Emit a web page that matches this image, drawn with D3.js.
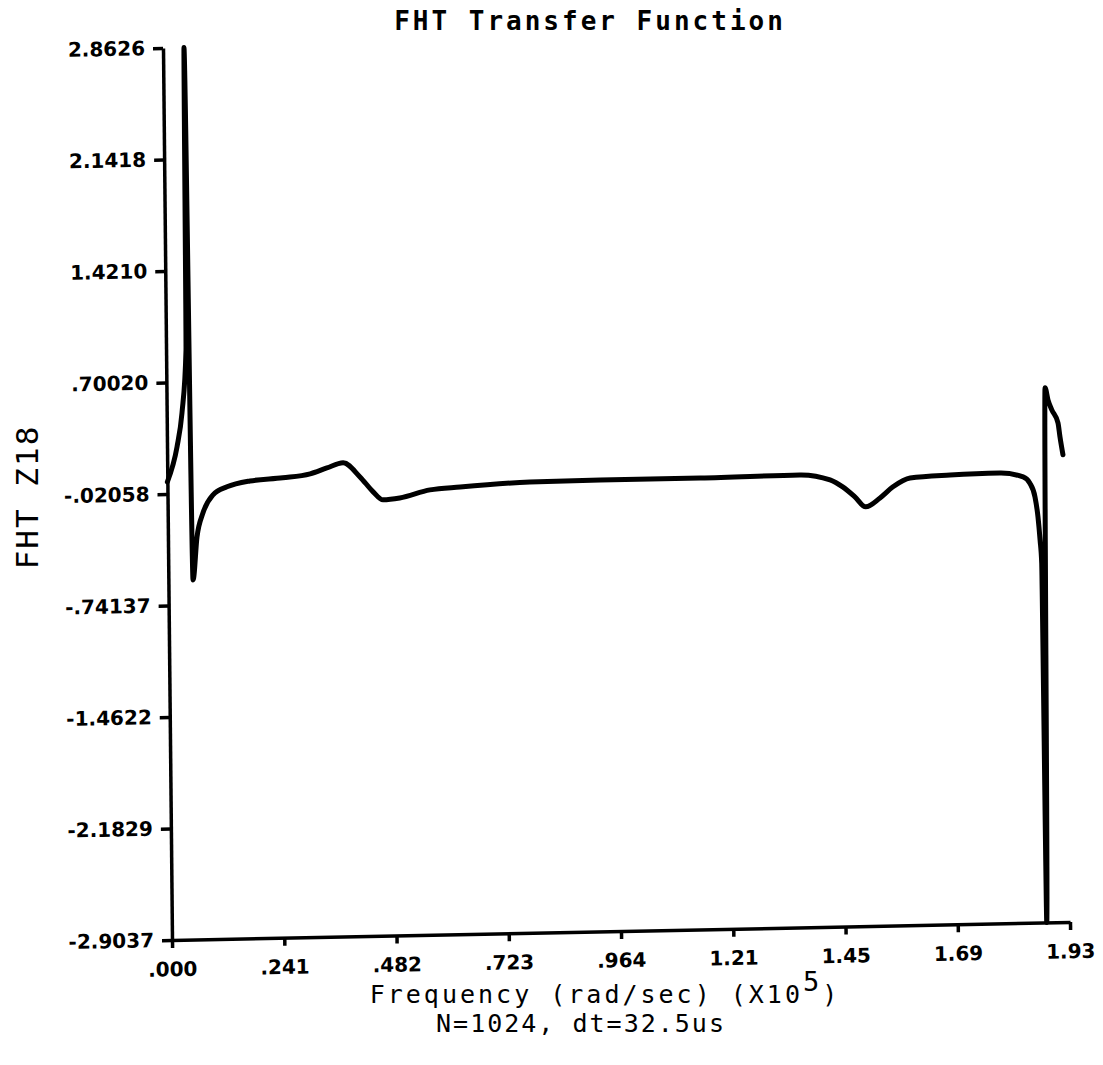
<!DOCTYPE html>
<html>
<head>
<meta charset="utf-8">
<script src="https://cdn.jsdelivr.net/npm/d3@7"></script>
<style>
  body { margin: 0; background: #fff; }
  .axis path, .axis line { stroke: #000; stroke-width: 3.5; }
  .axis text { font-family: "DejaVu Sans"; font-weight: bold; font-size: 20px; fill: #000; }
  .plotter { font-family: "DejaVu Sans Mono"; fill: #000; }
</style>
</head>
<body>
<div id="chart"></div>
<script>
// frequency (x10^5 rad/sec) and FHT Z18 response
const freq = [0, 0.0215, 0.0329, 0.0429, 0.0451, 0.0530, 0.0625, 0.0759, 0.0978, 0.128,
  0.1775, 0.248, 0.307, 0.343, 0.378, 0.414, 0.442, 0.463, 0.499, 0.564,
  0.629, 0.779, 0.930, 1.145, 1.359, 1.424, 1.451, 1.477, 1.500, 1.531,
  1.559, 1.596, 1.682, 1.789, 1.839, 1.853, 1.864, 1.870, 1.874, 1.877,
  1.880, 1.888, 1.894, 1.902, 1.915, 1.919, 1.925];
const fht = [0.058, 0.283, 0.502, 0.908, 2.8626, -0.579, -0.302, -0.147, -0.032, 0.018,
  0.053, 0.069, 0.091, 0.127, 0.158, 0.065, -0.033, -0.086, -0.076, -0.028,
  -0.013, 0.010, 0.014, 0.014, 0.021, -0.015, -0.062, -0.128, -0.194, -0.138,
  -0.068, -0.013, 0.001, 0.008, -0.021, -0.061, -0.152, -0.281, -0.431, -0.579,
  -2.9037, 0.552, 0.474, 0.409, 0.324, 0.233, 0.117];

const xTicks = [0, 0.24125, 0.4825, 0.72375, 0.965, 1.20625, 1.4475, 1.68875, 1.93];
const xTickLabels = [".000", ".241", ".482", ".723", ".964", "1.21", "1.45", "1.69", "1.93"];
const yTicks = [2.8626, 2.1418, 1.4210, 0.70020, -0.02058, -0.74137, -1.4622, -2.1829, -2.9037];
const yTickLabels = ["2.8626", "2.1418", "1.4210", ".70020", "-.02058", "-.74137", "-1.4622", "-2.1829", "-2.9037"];

const width = 1103, height = 1065;
const x0 = 172, x1 = 1070, yBottom = 940, yTop = 48;

const svg = d3.select("#chart").append("svg")
  .attr("width", width)
  .attr("height", height);

const x = d3.scaleLinear().domain([0, 1.93]).range([x0, x1]);
const y = d3.scaleLinear().domain([-2.9037, 2.8626]).range([yBottom, yTop]);

// the plotted frame sits a little askew on the sheet
const plot = svg.append("g")
  .attr("transform", `translate(${x0},${yBottom}) matrix(1,-0.02,0.0101,1,0,0) translate(${-x0},${-yBottom})`);

const yAxis = d3.axisLeft(y)
  .tickValues(yTicks)
  .tickFormat((d, i) => yTickLabels[i])
  .tickSize(10)
  .tickSizeOuter(0)
  .tickPadding(8);

const xAxis = d3.axisBottom(x)
  .tickValues(xTicks)
  .tickFormat((d, i) => xTickLabels[i])
  .tickSize(8)
  .tickSizeOuter(0)
  .tickPadding(14);

plot.append("g")
  .attr("class", "axis")
  .attr("transform", `translate(${x0},0)`)
  .call(yAxis);

plot.append("g")
  .attr("class", "axis")
  .attr("transform", `translate(0,${yBottom})`)
  .call(xAxis);

const line = d3.line()
  .x((d, i) => x(freq[i]))
  .y(d => y(d))
  .curve(d3.curveMonotoneX);

plot.append("path")
  .datum(fht)
  .attr("d", line)
  .attr("fill", "none")
  .attr("stroke", "#000")
  .attr("stroke-width", 5)
  .attr("stroke-linejoin", "round")
  .attr("stroke-linecap", "round");

// titles
svg.append("text")
  .attr("class", "plotter")
  .attr("x", 590)
  .attr("y", 30)
  .attr("text-anchor", "middle")
  .style("font-size", "26px")
  .style("font-weight", "bold")
  .style("letter-spacing", "3px")
  .text("FHT Transfer Function");

svg.append("text")
  .attr("class", "plotter")
  .attr("transform", "translate(38,497) rotate(-90)")
  .attr("text-anchor", "middle")
  .style("font-size", "31px")
  .style("letter-spacing", "2px")
  .text("FHT Z18");

const xLabel = svg.append("text")
  .attr("class", "plotter")
  .attr("x", 605)
  .attr("y", 1003)
  .attr("text-anchor", "middle")
  .style("font-size", "25px")
  .style("letter-spacing", "3px");
xLabel.append("tspan").text("Frequency (rad/sec) (X10");
xLabel.append("tspan").attr("dy", -12).style("font-size", "27px").text("5");
xLabel.append("tspan").attr("dy", 12).text(")");

svg.append("text")
  .attr("class", "plotter")
  .attr("x", 581)
  .attr("y", 1032)
  .attr("text-anchor", "middle")
  .style("font-size", "25px")
  .style("letter-spacing", "2px")
  .text("N=1024, dt=32.5us");
</script>
</body>
</html>
